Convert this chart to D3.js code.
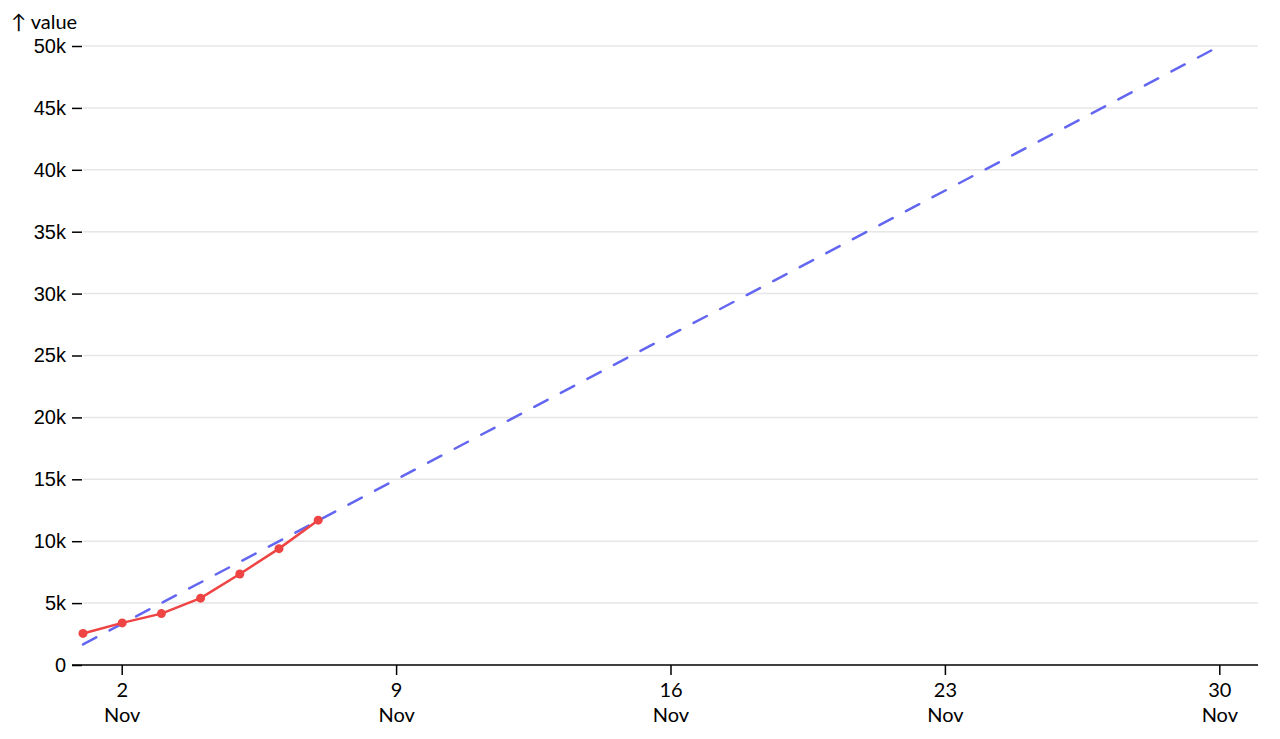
<!DOCTYPE html>
<html>
<head>
<meta charset="utf-8">
<script src="https://cdn.jsdelivr.net/npm/d3@7"></script>
<style>
  body { margin: 0; background: #fff; }
  svg { font-family: Lato, "Noto Sans", sans-serif; }
</style>
</head>
<body>
<svg id="chart"></svg>
<script>
// actual daily values (cumulative)
const actualDates = ["2023-11-01", "2023-11-02", "2023-11-03", "2023-11-04", "2023-11-05", "2023-11-06", "2023-11-07"];
const actualValues = [2550, 3400, 4150, 5400, 7350, 9400, 11700];

// target line, start and end of month
const targetDates = ["2023-11-01", "2023-11-30"];
const targetValues = [1667, 50000];

const yTicks = [0, 5000, 10000, 15000, 20000, 25000, 30000, 35000, 40000, 45000, 50000];
const xTickDates = ["2023-11-02", "2023-11-09", "2023-11-16", "2023-11-23", "2023-11-30"];

const width = 1280, height = 739;
const parse = d3.utcParse("%Y-%m-%d");
const fs = 20;

const actual = actualDates.map((d, i) => ({date: parse(d), value: actualValues[i]}));
const target = targetDates.map((d, i) => ({date: parse(d), value: targetValues[i]}));

const svg = d3.select("#chart")
    .attr("width", width)
    .attr("height", height);

const x = d3.scaleUtc()
    .domain([parse("2023-11-01"), parse("2023-12-01")])
    .range([83, 1259]);

const y = d3.scaleLinear()
    .domain([0, 50000])
    .range([665, 46]);

const left = 72, right = 1258;

// grid
svg.append("g")
    .selectAll("line")
    .data(yTicks.filter(d => d > 0))
    .join("line")
    .attr("x1", 83)
    .attr("x2", right)
    .attr("y1", d => y(d))
    .attr("y2", d => y(d))
    .attr("stroke", "#e6e6e6")
    .attr("stroke-width", 1.5);

// y axis
const yAxis = svg.append("g")
    .attr("transform", `translate(${left},0)`)
    .call(d3.axisLeft(y)
        .tickValues(yTicks)
        .tickSize(-10)
        .tickFormat(d => d === 0 ? "0" : d / 1000 + "k"));
yAxis.select(".domain").remove();
yAxis.selectAll(".tick line").attr("stroke", "#000").attr("stroke-width", 1.5);
yAxis.selectAll(".tick text")
    .attr("x", -6)
    .attr("font-size", fs)
    .attr("fill", "#000");

svg.append("text")
    .attr("x", 11)
    .attr("y", 29)
    .attr("font-size", fs)
    .attr("fill", "#000")
    .text("↑ value");

// x axis
svg.append("line")
    .attr("x1", left)
    .attr("x2", right)
    .attr("y1", y(0))
    .attr("y2", y(0))
    .attr("stroke", "#000")
    .attr("stroke-width", 1.5);

const xt = svg.append("g")
    .selectAll("g")
    .data(xTickDates.map(parse))
    .join("g")
    .attr("transform", d => `translate(${x(d)},${y(0)})`);
xt.append("line")
    .attr("y2", 10)
    .attr("stroke", "#000")
    .attr("stroke-width", 1.5);
xt.append("text")
    .attr("y", 32)
    .attr("text-anchor", "middle")
    .attr("font-size", fs)
    .text(d => d3.utcFormat("%-d")(d));
xt.append("text")
    .attr("y", 57)
    .attr("text-anchor", "middle")
    .attr("font-size", fs)
    .text(d => d3.utcFormat("%b")(d));

const line = d3.line()
    .x(d => x(d.date))
    .y(d => y(d.value));

// target
svg.append("path")
    .datum(target)
    .attr("d", line)
    .attr("fill", "none")
    .attr("stroke", "#6366f1")
    .attr("stroke-width", 2.5)
    .attr("stroke-dasharray", "15,15")
    .attr("stroke-linecap", "round");

// actual
svg.append("path")
    .datum(actual)
    .attr("d", line)
    .attr("fill", "none")
    .attr("stroke", "#ef4444")
    .attr("stroke-width", 2.5)
    .attr("stroke-linejoin", "round");

svg.append("g")
    .selectAll("circle")
    .data(actual)
    .join("circle")
    .attr("cx", d => x(d.date))
    .attr("cy", d => y(d.value))
    .attr("r", 4.5)
    .attr("fill", "#ef4444");
</script>
</body>
</html>
